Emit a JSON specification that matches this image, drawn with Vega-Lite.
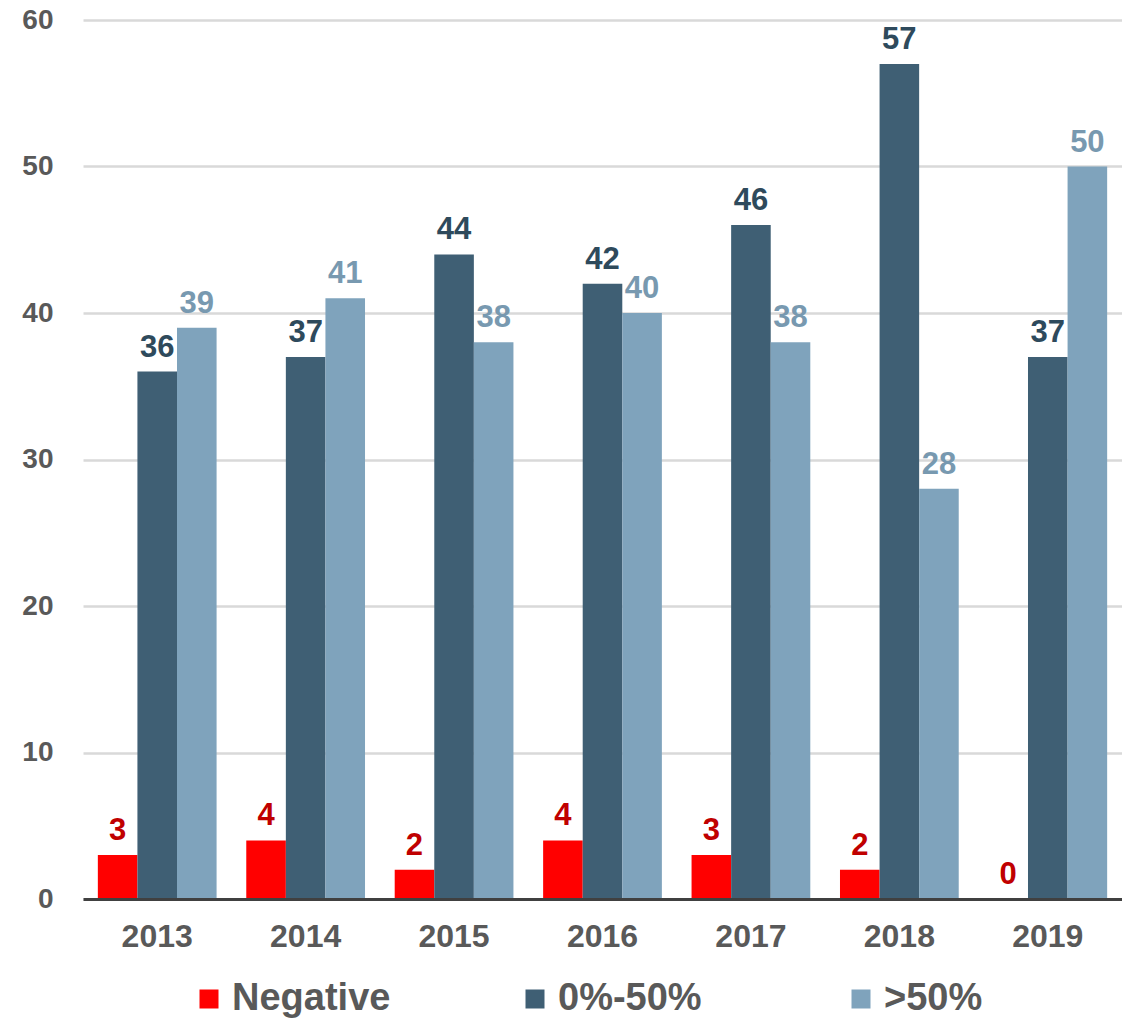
{
  "$schema": "https://vega.github.io/schema/vega-lite/v6.json",
  "autosize": {"type": "none"},
  "padding": {"left": 83, "top": 20, "right": 0, "bottom": 119},
  "width": 1039,
  "height": 879,
  "background": "white",
  "config": {
    "view": {"stroke": null},
    "font": "Liberation Sans"
  },
  "data": {
    "values": [
      {"year": "2013", "series": "Negative", "value": 3},
      {"year": "2013", "series": "0%-50%", "value": 36},
      {"year": "2013", "series": ">50%", "value": 39},
      {"year": "2014", "series": "Negative", "value": 4},
      {"year": "2014", "series": "0%-50%", "value": 37},
      {"year": "2014", "series": ">50%", "value": 41},
      {"year": "2015", "series": "Negative", "value": 2},
      {"year": "2015", "series": "0%-50%", "value": 44},
      {"year": "2015", "series": ">50%", "value": 38},
      {"year": "2016", "series": "Negative", "value": 4},
      {"year": "2016", "series": "0%-50%", "value": 42},
      {"year": "2016", "series": ">50%", "value": 40},
      {"year": "2017", "series": "Negative", "value": 3},
      {"year": "2017", "series": "0%-50%", "value": 46},
      {"year": "2017", "series": ">50%", "value": 38},
      {"year": "2018", "series": "Negative", "value": 2},
      {"year": "2018", "series": "0%-50%", "value": 57},
      {"year": "2018", "series": ">50%", "value": 28},
      {"year": "2019", "series": "Negative", "value": 0},
      {"year": "2019", "series": "0%-50%", "value": 37},
      {"year": "2019", "series": ">50%", "value": 50}
    ]
  },
  "encoding": {
    "x": {
      "field": "year", "type": "nominal",
      "scale": {"paddingInner": 0.2, "paddingOuter": 0.1},
      "axis": {
        "title": null, "labelAngle": 0, "labelFontSize": 32, "labelFontWeight": "bold",
        "labelColor": "#595959", "labelPadding": 22, "ticks": false,
        "domain": true, "domainColor": "#404040", "domainWidth": 3, "grid": false, "zindex": 1
      }
    },
    "xOffset": {"field": "series", "type": "nominal", "sort": ["Negative", "0%-50%", ">50%"], "scale": {"paddingInner": 0, "paddingOuter": 0}},
    "y": {
      "field": "value", "type": "quantitative",
      "scale": {"domain": [0, 60], "nice": false},
      "axis": {
        "title": null, "values": [0, 10, 20, 30, 40, 50, 60], "labelFontSize": 28, "labelFontWeight": "bold",
        "labelColor": "#595959", "labelPadding": 30, "ticks": false, "domain": false,
        "grid": true, "gridColor": "#D9D9D9", "gridWidth": 2.5
      }
    }
  },
  "layer": [
    {
      "mark": {"type": "bar"},
      "encoding": {
        "color": {
          "field": "series", "type": "nominal",
          "scale": {"domain": ["Negative", "0%-50%", ">50%"], "range": ["#FF0000", "#3F5F74", "#7FA3BC"]},
          "legend": {
            "orient": "none", "legendX": 107, "legendY": 960, "direction": "horizontal", "columns": 3,
            "gridAlign": "all", "columnPadding": 125, "title": null,
            "symbolType": "square", "symbolSize": 361, "symbolStrokeWidth": 0, "symbolOpacity": 1,
            "labelFontSize": 38, "labelFontWeight": "bold", "labelColor": "#595959", "labelOffset": 4,
            "labelLimit": 400
          }
        }
      }
    },
    {
      "mark": {"type": "text", "baseline": "bottom", "dy": -8, "fontSize": 31, "fontWeight": "bold"},
      "encoding": {
        "text": {"field": "value", "type": "quantitative"},
        "color": {
          "field": "series", "type": "nominal",
          "scale": {"domain": ["Negative", "0%-50%", ">50%"], "range": ["#C00000", "#2E4A5C", "#7899B0"]},
          "legend": null
        }
      }
    }
  ],
  "resolve": {"scale": {"color": "independent"}}
}
